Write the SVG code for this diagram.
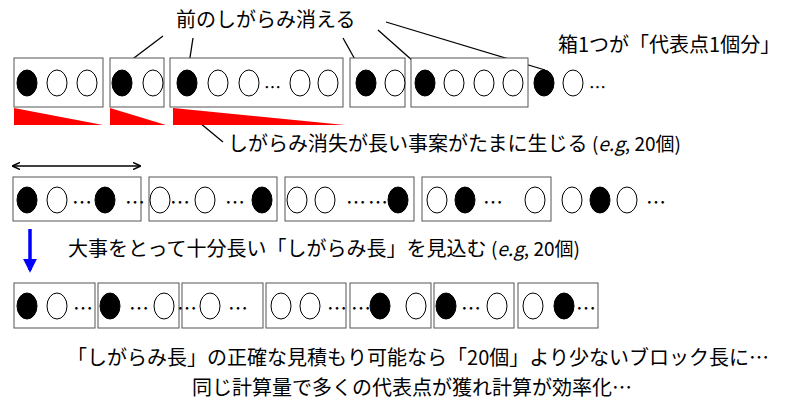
<svg xmlns="http://www.w3.org/2000/svg" width="800" height="408" viewBox="0 0 800 408">
<defs>
<style>
.box{fill:#fff;stroke:#555;stroke-width:1}
.b{fill:#000;stroke:#000}
.w{fill:#fff;stroke:#000;stroke-width:1}
text{font-family:"Noto Sans CJK JP","Liberation Sans",sans-serif;font-size:20px;fill:#000}
.sm{font-size:17px}
.eg{font-size:19px}
.ln{stroke:#000;stroke-width:1.3;fill:none}
</style>
<marker id="ah" viewBox="0 0 10 10" refX="9" refY="5" markerWidth="6" markerHeight="6" orient="auto-start-reverse"><path d="M0,0.5 L10,5 L0,9.5" fill="none" stroke="#000" stroke-width="2"/></marker>
<marker id="bh" viewBox="0 0 10 10" refX="8" refY="5" markerWidth="4" markerHeight="4" orient="auto"><path d="M0,0 L10,5 L0,10 Z" fill="#00f"/></marker>
</defs>
<rect width="800" height="408" fill="#fff"/>
<text x="176" y="27" font-size="21">前のしがらみ消える</text>
<text x="558" y="52">箱1つが「代表点1個分」</text>
<g id="connectors">
<line class="ln" x1="163" y1="36" x2="126" y2="64"/>
<line class="ln" x1="193" y1="38" x2="189" y2="64"/>
<line class="ln" x1="343" y1="38" x2="362" y2="72"/>
<line class="ln" x1="378" y1="30" x2="422" y2="69"/>
<line class="ln" x1="386" y1="22" x2="545" y2="70"/>
<line class="ln" x1="200" y1="123" x2="223" y2="142"/>
<line class="ln" x1="13" y1="166" x2="140" y2="166" stroke-width="2.5" marker-start="url(#ah)" marker-end="url(#ah)"/>
<line x1="30" y1="229" x2="30" y2="270" stroke="#00f" stroke-width="3.5" marker-end="url(#bh)"/>
</g>
<g id="row1">
<rect class="box" x="14" y="58" width="89" height="49"/>
<rect class="box" x="110" y="58" width="54" height="49"/>
<rect class="box" x="170" y="58" width="173" height="49"/>
<rect class="box" x="350" y="58" width="55" height="49"/>
<rect class="box" x="411" y="58" width="117" height="49"/>
<g transform="translate(0,83)">
<ellipse class="b" cx="27" cy="0" rx="10" ry="13"/><ellipse class="w" cx="57" cy="0" rx="10" ry="13"/><ellipse class="w" cx="87" cy="0" rx="10" ry="13"/>
<ellipse class="b" cx="122" cy="0" rx="10" ry="13"/><ellipse class="w" cx="153" cy="0" rx="10" ry="13"/>
<ellipse class="b" cx="187" cy="0" rx="10" ry="13"/><ellipse class="w" cx="218" cy="0" rx="10" ry="13"/><ellipse class="w" cx="249" cy="0" rx="10" ry="13"/>
<text x="264" y="11" class="sm">…</text>
<ellipse class="w" cx="300" cy="0" rx="10" ry="13"/><ellipse class="w" cx="328" cy="0" rx="10" ry="13"/>
<ellipse class="b" cx="366" cy="0" rx="10" ry="13"/><ellipse class="w" cx="395" cy="0" rx="10" ry="13"/>
<ellipse class="b" cx="425" cy="0" rx="10" ry="13"/><ellipse class="w" cx="454" cy="0" rx="10" ry="13"/><ellipse class="w" cx="484" cy="0" rx="10" ry="13"/><ellipse class="w" cx="513" cy="0" rx="10" ry="13"/>
<ellipse class="b" cx="544" cy="0" rx="10" ry="13"/><ellipse class="w" cx="573" cy="0" rx="10" ry="13"/>
<text x="589" y="11" class="sm">…</text>
</g>
</g>
<g id="triangles" fill="#f00">
<polygon points="14,108 14,125 103,125"/>
<polygon points="110,108 110,125 166,125"/>
<polygon points="173,108 173,125 345,125"/>
</g>
<text x="228" y="151">しがらみ消失が長い事案がたまに生じる <tspan class="eg">(<tspan font-style="italic">e.g</tspan>, 20個)</tspan></text>
<g id="row2">
<rect class="box" x="13" y="177" width="128" height="44"/>
<rect class="box" x="149" y="177" width="128" height="44"/>
<rect class="box" x="285" y="177" width="129" height="44"/>
<rect class="box" x="422" y="177" width="129" height="44"/>
<g transform="translate(0,200)" class="sm">
<ellipse class="b" cx="27" cy="0" rx="10" ry="13"/><ellipse class="w" cx="57" cy="0" rx="10" ry="13"/><text x="72" y="10">…</text><ellipse class="b" cx="105" cy="0" rx="10" ry="13"/><text x="125" y="10">…</text>
<ellipse class="w" cx="160" cy="0" rx="10" ry="13"/><text x="170" y="10">…</text><ellipse class="w" cx="205" cy="0" rx="10" ry="13"/><text x="225" y="10">…</text><ellipse class="b" cx="262" cy="0" rx="10" ry="13"/>
<ellipse class="w" cx="297" cy="0" rx="10" ry="13"/><ellipse class="w" cx="325" cy="0" rx="10" ry="13"/><text x="346" y="10">…</text><text x="368" y="10">…</text><ellipse class="b" cx="398" cy="0" rx="10" ry="13"/>
<ellipse class="w" cx="437" cy="0" rx="10" ry="13"/><ellipse class="b" cx="465" cy="0" rx="10" ry="13"/><text x="483" y="10">…</text><ellipse class="w" cx="535" cy="0" rx="10" ry="13"/>
<ellipse class="w" cx="572" cy="0" rx="10" ry="13"/><ellipse class="b" cx="600" cy="0" rx="10" ry="13"/><ellipse class="w" cx="627" cy="0" rx="10" ry="13"/><text x="646" y="10">…</text>
</g>
</g>
<text x="68" y="256">大事をとって十分長い「しがらみ長」を見込む <tspan class="eg">(<tspan font-style="italic">e.g</tspan>, 20個)</tspan></text>
<g id="row3">
<rect class="box" x="14" y="283" width="81" height="45"/>
<rect class="box" x="98" y="283" width="81" height="45"/>
<rect class="box" x="182" y="283" width="81" height="45"/>
<rect class="box" x="266" y="283" width="80" height="45"/>
<rect class="box" x="350" y="283" width="81" height="45"/>
<rect class="box" x="434" y="283" width="80" height="45"/>
<rect class="box" x="518" y="283" width="80" height="45"/>
<g transform="translate(0,306)" class="sm">
<ellipse class="b" cx="27" cy="0" rx="10" ry="13"/><ellipse class="w" cx="57" cy="0" rx="10" ry="13"/><text x="73" y="10">…</text>
<ellipse class="b" cx="110" cy="0" rx="10" ry="13"/><text x="129" y="10">…</text><ellipse class="w" cx="164" cy="0" rx="10" ry="13"/>
<text x="177" y="10">…</text><ellipse class="w" cx="210" cy="0" rx="10" ry="13"/><text x="228" y="10">…</text>
<ellipse class="w" cx="281" cy="0" rx="10" ry="13"/><ellipse class="w" cx="310" cy="0" rx="10" ry="13"/><text x="327" y="10">…</text>
<text x="351" y="10">…</text><ellipse class="b" cx="380" cy="0" rx="10" ry="13"/><ellipse class="w" cx="416" cy="0" rx="10" ry="13"/>
<ellipse class="b" cx="446" cy="0" rx="10" ry="13"/><text x="461" y="10">…</text><ellipse class="w" cx="497" cy="0" rx="10" ry="13"/>
<ellipse class="w" cx="533" cy="0" rx="10" ry="13"/><ellipse class="b" cx="564" cy="0" rx="10" ry="13"/><text x="576" y="10">…</text>
</g>
</g>
<text x="418" y="365" text-anchor="middle">「しがらみ長」の正確な見積もり可能なら「20個」より少ないブロック長に…</text>
<text x="412" y="395" text-anchor="middle">同じ計算量で多くの代表点が獲れ計算が効率化…</text>
</svg>
